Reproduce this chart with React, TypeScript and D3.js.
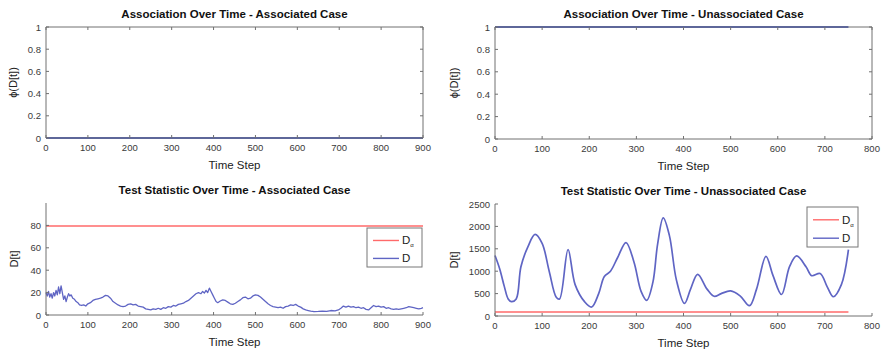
import React from "react";
import * as d3 from "d3";

// ---------- data ----------
const phiTicks = [0, 0.2, 0.4, 0.6, 0.8, 1];
const xTicks900 = [0, 100, 200, 300, 400, 500, 600, 700, 800, 900];
const xTicks800 = [0, 100, 200, 300, 400, 500, 600, 700, 800];
const dTicksAssoc = [0, 20, 40, 60, 80];
const dTicksUnassoc = [0, 500, 1000, 1500, 2000, 2500];

const assocPhiSteps = [0, 900];
const assocPhi = [0, 0];
const unassocPhiSteps = [0, 750];
const unassocPhi = [1, 1];

const assocThreshSteps = [0, 900];
const assocThresh = [79.5, 79.5];
const unassocThreshSteps = [0, 750];
const unassocThresh = [90, 90];

const assocSteps = [
  0, 3, 6, 9, 12, 15, 18, 21, 24, 27, 30, 33, 36, 39, 42, 45, 48, 51, 54, 57, 60, 64, 68, 72, 76, 80, 85, 90, 95, 100,
  106, 112, 118, 124, 130, 136, 142, 148, 154, 160, 166, 172, 178, 184, 190, 196, 202, 208, 214, 220, 226, 232, 238,
  244, 250, 256, 262, 268, 274, 280, 286, 292, 298, 304, 310, 316, 322, 328, 334, 340, 346, 352, 358, 364, 370, 374,
  378, 382, 386, 390, 394, 398, 402, 406, 410, 416, 422, 428, 434, 440, 446, 452, 458, 464, 470, 476, 482, 488, 494,
  500, 506, 512, 518, 524, 530, 536, 542, 548, 554, 560, 566, 572, 578, 584, 590, 596, 602, 608, 614, 620, 626, 632,
  640, 650, 660, 670, 680, 690, 698, 704, 710, 716, 722, 728, 734, 740, 746, 752, 758, 764, 770, 776, 782, 788, 794,
  800, 806, 812, 818, 824, 830, 836, 842, 848, 854, 860, 866, 872, 878, 884, 890, 896, 900,
];
const assocD = [
  20, 17, 21, 16, 19, 15, 20, 17, 22, 18, 25, 19, 26, 20, 14, 17, 12, 16, 19, 17, 18, 15, 14, 12, 11, 9, 8.5, 9, 8, 10,
  11, 13, 14, 14.5, 15, 16, 17.5, 17, 15, 12, 10.5, 9, 8, 7.5, 8, 9.5, 10, 9, 9.5, 8, 7.5, 7, 5.5,
  5, 4.5, 5.5, 5, 6, 5, 6.5, 6, 7.5, 7, 8.5, 8, 9.5, 10, 10.5, 12, 13, 15, 17, 19, 20, 19, 21,
  19.5, 22, 20, 24, 21, 18, 15, 12, 11, 12.5, 13.5, 13, 11.5, 10, 9.5, 10.5, 12, 13.5, 15.5, 16, 14.5, 15, 17,
  18, 17.5, 16, 14, 12, 10, 8.5, 7.5, 7, 6.5, 7, 6, 7.5, 8, 9, 8.5, 9.5, 8, 7, 5.5, 4.5, 4, 3.5,
  3, 3.2, 3.5, 3.3, 4, 3.6, 4.5, 6, 8, 7, 8, 7, 7.5, 6.5, 7, 6, 6.5, 5, 4.5, 6.5, 8.5, 7.5, 8,
  7, 7.5, 6, 6.5, 5.5, 5, 5.5, 5, 5.5, 6, 6.5, 7.5, 7, 6.5, 6, 5.5, 6, 6.5,
];

const unassocSteps = [
  0, 10, 20, 28, 35, 45, 55, 70, 85, 100, 115, 130, 137, 155, 170, 190, 205, 220, 232, 245, 260, 278, 295, 310, 322,
  335, 345, 357, 370, 385, 402, 415, 430, 450, 465, 480, 500, 520, 540, 555, 575, 590, 608, 625, 640, 660, 672, 690,
  705, 718, 735, 750,
];
const unassocD = [
  1350, 1050, 650, 380, 320, 380, 1100, 1550, 1820, 1620, 1000, 420, 380, 1480, 700, 320, 200, 500, 880, 1000, 1300,
  1640, 1200, 550, 350, 750, 1600, 2190, 1800, 800, 280, 600, 930, 600, 440, 500, 560, 450, 230, 600, 1330, 900, 480,
  1100, 1340, 1100, 900, 950, 650, 430, 700, 1480,
];

// ---------- styles ----------
const FONT = "'Liberation Sans', Arial, Helvetica, sans-serif";
const AXIS = "#707070";
const TICKTXT = "#3a3a3a";
const BLUE_THICK = "#4d5fc2";
const BLUE = "#5f65c4";
const RED = "#ff6a6a";

type Series = { xs: number[]; ys: number[]; color: string; width: number; smooth?: boolean };

function Panel(props: {
  left: number; top: number; w: number; h: number;
  xDomain: [number, number]; xTicks: number[];
  yDomain: [number, number]; yTicks: number[];
  box: boolean; title: string; ylabel: string; ylabelOffset: number; series: Series[];
  legend?: { x: number; y: number; w: number; h: number };
}) {
  const { left, top, w, h, xDomain, xTicks, yDomain, yTicks, box, title, ylabel, ylabelOffset, series, legend } = props;
  const x = d3.scaleLinear().domain(xDomain).range([left, left + w]);
  const y = d3.scaleLinear().domain(yDomain).range([top + h, top]);
  const tl = 3;
  return (
    <g fontFamily={FONT}>
      {series.map((s, i) => {
        const pts = s.xs.map((v, j) => [v, s.ys[j]] as [number, number]);
        const line = d3
          .line<[number, number]>()
          .x((d) => x(d[0]))
          .y((d) => y(d[1]))
          .curve(s.smooth ? d3.curveCatmullRom.alpha(0.5) : d3.curveLinear);
        return <path key={i} d={line(pts) || ""} fill="none" stroke={s.color} strokeWidth={s.width} strokeLinejoin="round" />;
      })}
      <line x1={left} x2={left} y1={top} y2={top + h} stroke={AXIS} strokeWidth={1} />
      <line x1={left} x2={left + w} y1={top + h} y2={top + h} stroke={AXIS} strokeWidth={1} />
      {box && <line x1={left} x2={left + w} y1={top} y2={top} stroke={AXIS} strokeWidth={1} />}
      {box && <line x1={left + w} x2={left + w} y1={top} y2={top + h} stroke={AXIS} strokeWidth={1} />}
      {xTicks.map((t) => (
        <g key={"x" + t}>
          <line x1={x(t)} x2={x(t)} y1={top + h} y2={top + h - tl} stroke={AXIS} />
          {box && <line x1={x(t)} x2={x(t)} y1={top} y2={top + tl} stroke={AXIS} />}
          <text x={x(t)} y={top + h + 13} fontSize={9.5} fill={TICKTXT} textAnchor="middle">{t}</text>
        </g>
      ))}
      {yTicks.map((t) => (
        <g key={"y" + t}>
          <line x1={left} x2={left + tl} y1={y(t)} y2={y(t)} stroke={AXIS} />
          {box && <line x1={left + w} x2={left + w - tl} y1={y(t)} y2={y(t)} stroke={AXIS} />}
          <text x={left - 5} y={y(t) + 3.5} fontSize={9.5} fill={TICKTXT} textAnchor="end">{t}</text>
        </g>
      ))}
      <text x={left + w / 2} y={top - 9} fontSize={11.5} fontWeight="bold" fill="#111" textAnchor="middle">{title}</text>
      <text x={left + w / 2} y={top + h + 31} fontSize={11.5} fill="#222" textAnchor="middle">Time Step</text>
      <text
        transform={`translate(${left - ylabelOffset},${top + h / 2}) rotate(-90)`}
        fontSize={11}
        fill="#222"
        textAnchor="middle"
      >
        {ylabel}
      </text>
      {legend && (
        <g>
          <rect x={legend.x} y={legend.y} width={legend.w} height={legend.h} fill="#fff" stroke="#777" strokeWidth={1} />
          <line x1={legend.x + 6} x2={legend.x + 32} y1={legend.y + legend.h * 0.32} y2={legend.y + legend.h * 0.32} stroke={RED} strokeWidth={1.4} />
          <text x={legend.x + 35} y={legend.y + legend.h * 0.32 + 4} fontSize={11.5} fill="#222">
            D<tspan fontSize={6} dy={3}>α</tspan>
          </text>
          <line x1={legend.x + 6} x2={legend.x + 32} y1={legend.y + legend.h * 0.78} y2={legend.y + legend.h * 0.78} stroke={BLUE} strokeWidth={1.4} />
          <text x={legend.x + 35} y={legend.y + legend.h * 0.78 + 4} fontSize={11.5} fill="#222">D</text>
        </g>
      )}
    </g>
  );
}

export default function App() {
  return (
    <svg width={881} height={351} style={{ position: "absolute", left: 0, top: 0, background: "#fff" }}>
      <rect x={0} y={0} width={881} height={351} fill="#fff" />
      <Panel
        left={46} top={27} w={377} h={111}
        xDomain={[0, 900]} xTicks={xTicks900}
        yDomain={[0, 1]} yTicks={phiTicks}
        box title="Association Over Time - Associated Case" ylabel="ϕ(D[t])" ylabelOffset={29}
        series={[{ xs: assocPhiSteps, ys: assocPhi, color: BLUE_THICK, width: 2.2 }]}
      />
      <Panel
        left={495} top={27} w={377} h={112}
        xDomain={[0, 800]} xTicks={xTicks800}
        yDomain={[0, 1]} yTicks={phiTicks}
        box title="Association Over Time - Unassociated Case" ylabel="ϕ(D[t])" ylabelOffset={37}
        series={[{ xs: unassocPhiSteps, ys: unassocPhi, color: BLUE_THICK, width: 2.2 }]}
      />
      <Panel
        left={46} top={203} w={377} h={112}
        xDomain={[0, 900]} xTicks={xTicks900}
        yDomain={[0, 100]} yTicks={dTicksAssoc}
        box={false} title="Test Statistic Over Time - Associated Case" ylabel="D[t]" ylabelOffset={28}
        series={[
          { xs: assocThreshSteps, ys: assocThresh, color: RED, width: 1.4 },
          { xs: assocSteps, ys: assocD, color: BLUE, width: 1.3 },
        ]}
        legend={{ x: 367, y: 228, w: 55, h: 39 }}
      />
      <Panel
        left={495} top={204} w={377} h={112}
        xDomain={[0, 800]} xTicks={xTicks800}
        yDomain={[0, 2500]} yTicks={dTicksUnassoc}
        box={false} title="Test Statistic Over Time - Unassociated Case" ylabel="D[t]" ylabelOffset={37}
        series={[
          { xs: unassocThreshSteps, ys: unassocThresh, color: RED, width: 1.4 },
          { xs: unassocSteps, ys: unassocD, color: BLUE, width: 1.7, smooth: true },
        ]}
        legend={{ x: 807, y: 207, w: 51, h: 40 }}
      />
    </svg>
  );
}
